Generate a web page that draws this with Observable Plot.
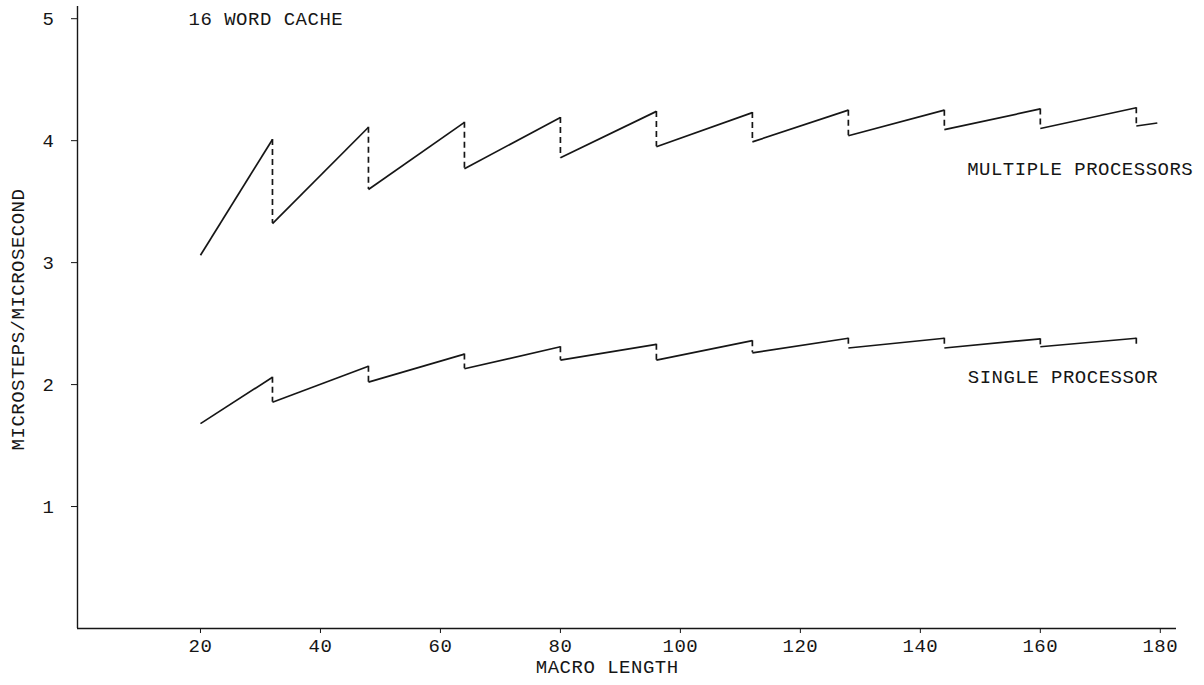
<!DOCTYPE html>
<html>
<head>
<meta charset="utf-8">
<script src="https://cdn.jsdelivr.net/npm/d3@7"></script>
<script src="https://cdn.jsdelivr.net/npm/@observablehq/plot@0.6"></script>
<style>
  html, body { margin: 0; padding: 0; background: #fff; overflow: hidden; }
  #chart svg { display: block; }
</style>
</head>
<body>
<div id="chart"></div>
<script>
// ---- Data ----
const xTicks = [20, 40, 60, 80, 100, 120, 140, 160, 180];
const yTicks = [1, 2, 3, 4, 5];

// macro lengths at which both curves drop (cache refill points)
const jumpX = [32, 48, 64, 80, 96, 112, 128, 144, 160, 176];

const startX = 20;

// Multiple processors
const multiStartY = 3.06;
const multiPeak = [4.01, 4.11, 4.15, 4.19, 4.24, 4.23, 4.25, 4.25, 4.26, 4.27];
const multiLow  = [3.32, 3.60, 3.77, 3.86, 3.95, 3.99, 4.04, 4.09, 4.10, 4.12];
const multiEndX = 179.5;
const multiEndY = 4.145;

// Single processor
const singleStartY = 1.68;
const singlePeak = [2.06, 2.15, 2.25, 2.31, 2.33, 2.36, 2.38, 2.38, 2.375, 2.38];
const singleLow  = [1.855, 2.02, 2.13, 2.20, 2.20, 2.26, 2.30, 2.30, 2.31, 2.33];

const title = "16 WORD CACHE";
const xLabel = "MACRO LENGTH";
const yLabel = "MICROSTEPS/MICROSECOND";
const multiName = "MULTIPLE PROCESSORS";
const singleName = "SINGLE PROCESSOR";

// ---- Build segment tables ----
function rises(startY, peaks, lows, endX, endY) {
  const out = [];
  let px = startX, py = startY;
  for (let i = 0; i < jumpX.length; i++) {
    out.push({x1: px, y1: py, x2: jumpX[i], y2: peaks[i]});
    px = jumpX[i]; py = lows[i];
  }
  if (endX != null) out.push({x1: px, y1: py, x2: endX, y2: endY});
  return out;
}
function drops(peaks, lows) {
  return jumpX.map((x, i) => ({x, y1: peaks[i], y2: lows[i]}));
}

const segs = [
  ...rises(multiStartY, multiPeak, multiLow, multiEndX, multiEndY),
  ...rises(singleStartY, singlePeak, singleLow, null, null)
];
const vdrops = [...drops(multiPeak, multiLow), ...drops(singlePeak, singleLow)];

const ink = "#161616";
const font = "'Liberation Mono', 'DejaVu Sans Mono', monospace";
const fs = 19;

const chart = Plot.plot({
  width: 1204,
  height: 685,
  marginLeft: 77,
  marginRight: 28,
  marginTop: 6,
  marginBottom: 57,
  style: {fontFamily: font, fontSize: fs + "px", letterSpacing: "0.5px", color: ink, background: "#fff"},
  x: {domain: [-0.5, 182.7]},
  y: {domain: [0, 5.1]},
  marks: [
    Plot.ruleX([-0.5], {y1: 0, y2: 5.1, stroke: ink, strokeWidth: 1.4}),
    Plot.ruleY([0], {x1: -0.5, x2: 182.7, stroke: ink, strokeWidth: 1.4}),
    Plot.axisX({ticks: xTicks, tickSize: 5, tickPadding: 5, tickFormat: "d", label: null, stroke: ink, fill: ink, fontSize: fs}),
    Plot.axisY({ticks: yTicks, tickSize: 6, tickPadding: 17, tickFormat: "d", label: null, stroke: ink, fill: ink, fontSize: fs}),
    Plot.link(segs, {x1: "x1", y1: "y1", x2: "x2", y2: "y2", stroke: ink, strokeWidth: 1.7}),
    Plot.ruleX(vdrops, {x: "x", y1: "y1", y2: "y2", stroke: ink, strokeWidth: 1.7, strokeDasharray: "6,4"}),
    Plot.text([title], {x: 18, y: 5.0, text: d => d, textAnchor: "start", fill: ink, fontSize: fs}),
    Plot.text([multiName], {x: 147.8, y: 3.77, text: d => d, textAnchor: "start", fill: ink, fontSize: fs}),
    Plot.text([singleName], {x: 147.9, y: 2.06, text: d => d, textAnchor: "start", fill: ink, fontSize: fs}),
    Plot.text([xLabel], {x: 87.8, frameAnchor: "bottom", dy: 44, text: d => d, fill: ink, fontSize: fs}),
    Plot.text([yLabel], {frameAnchor: "left", textAnchor: "middle", dx: -60, dy: 2, rotate: -90, text: d => d, fill: ink, fontSize: fs})
  ]
});
document.getElementById("chart").appendChild(chart);
</script>
</body>
</html>
